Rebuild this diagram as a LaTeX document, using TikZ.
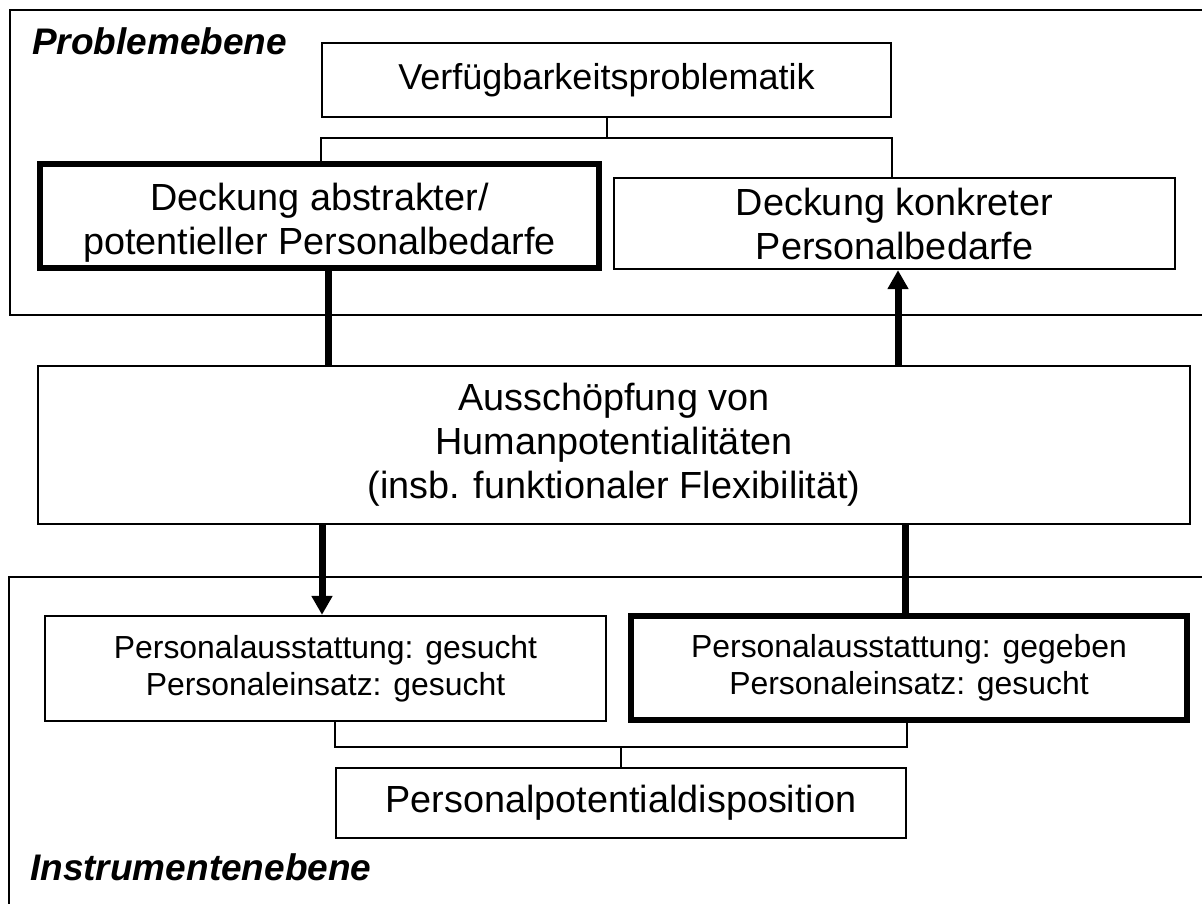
\documentclass[tikz,border=0pt]{standalone}
\usepackage{fontspec}
\setmainfont{Liberation Sans}
\usetikzlibrary{arrows.meta}

\tikzset{
  box/.style={draw, rectangle, line width=2.3pt, inner sep=0pt, align=center,
              font=\fontsize{37.8}{44}\selectfont},
  thickbox/.style={box, line width=6pt},
  smallbox/.style={font=\fontsize{31.9}{37}\selectfont},
  conn/.style={line width=2pt},
  frame/.style={line width=2.3pt},
  link/.style={line width=7pt},
  arrowlink/.style={line width=7pt, -{Triangle[width=20pt,length=19pt]}},
  level/.style={anchor=base west, inner sep=0pt,
                font=\fontsize{37}{44}\selectfont\bfseries\itshape}
}

\begin{document}
\begin{tikzpicture}[x=1pt,y=-1pt]
\useasboundingbox (0,0) rectangle (1202,904);

% level frames (open towards the page edges)
\draw[frame] (1203,10) -| (10,315) -- (1203,315);
\draw[frame] (1203,577) -| (9,905);

\node[level] (lprob) at (32,55) {Problemebene};
\node[level] (linst) at (30,880) {Instrumentenebene};

% problem level
\node[box, minimum width=569pt, minimum height=74pt,
      font=\fontsize{36}{44}\selectfont] (verf) at (606.5,80)
  {Verfügbarkeitsproblematik};
\node[thickbox, minimum width=559pt, minimum height=104pt] (abstr) at (319.5,216)
  {\rule{0pt}{40pt}Deckung abstrakter/\\potentieller Personalbedarfe};
\node[box, minimum width=561pt, minimum height=91pt] (konkr) at (894.5,223.5)
  {Deckung konkreter\\Personalbedarfe};

% central box
\node[box, minimum width=1152pt, minimum height=158pt] (mid) at (614,445)
  {Ausschöpfung von\\Humanpotentialitäten\\(insb. funktionaler Flexibilität)};

% instrument level
\node[box, smallbox, minimum width=561pt, minimum height=105pt] (ls) at (325.5,668.5)
  {Personalausstattung: gesucht\\Personaleinsatz: gesucht};
\node[thickbox, smallbox, minimum width=556pt, minimum height=104pt] (rs) at (909,668)
  {Personalausstattung: gegeben\\Personaleinsatz: gesucht};
\node[box, minimum width=570pt, minimum height=70pt] (ppd) at (621,803)
  {Personalpotentialdisposition};

% junction points and connector columns
\coordinate (tj) at (606.5,138);
\coordinate (bj) at (621,747);
\coordinate (xl) at (328,0);
\coordinate (xk) at (898,0);
\coordinate (xd) at (322,0);
\coordinate (xr) at (905,0);

% tree connectors
\draw[conn] (verf.south) -- (tj);
\draw[conn] (abstr.north -| verf.west) |- (tj) -| (konkr.north -| verf.east);
\draw[conn] (ls.south -| ppd.west) |- (bj) -| (rs.south -| ppd.east);
\draw[conn] (bj) -- (ppd.north);

% thick links between levels
\draw[link] (abstr.south -| xl) -- (mid.north -| xl);
\draw[arrowlink] (mid.north -| xk) -- (konkr.south -| xk);
\draw[arrowlink] (mid.south -| xd) -- (ls.north -| xd);
\draw[link] (rs.north -| xr) -- (mid.south -| xr);
\end{tikzpicture}
\end{document}
